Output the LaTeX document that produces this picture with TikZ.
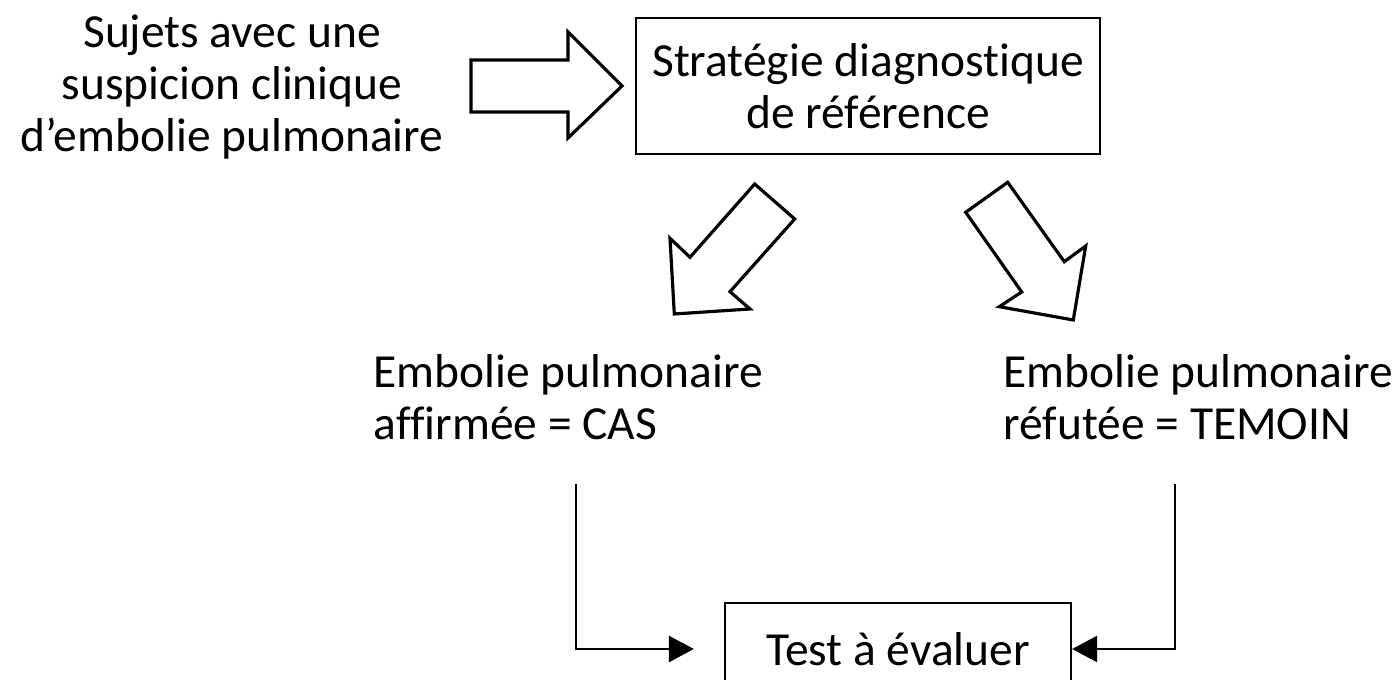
\documentclass[tikz,border=0pt]{standalone}
\usepackage{fontspec}
\setmainfont{Carlito}[Ligatures={TeX,NoCommon}]
\usetikzlibrary{arrows.meta,positioning}

\begin{document}
\begin{tikzpicture}[x=0.01cm,y=-0.01cm,
    box/.style={draw, line width=0.6pt, inner sep=0pt, align=center},
    label/.style={inner sep=0pt},
    bigarrow/.style={draw, line width=0.9pt, line join=miter, fill=white},
    link/.style={line width=0.7pt, -{Triangle[length=7.1pt,width=7.4pt]}}]
    \tikzstyle{every node}=[font=\fontsize{13.5pt}{14.8pt}\selectfont]
    \clip (0,0) rectangle (1396,680);
    \node[label, align=center] (sujets) at (232,87)
        {Sujets avec une\\suspicion clinique\\d'embolie pulmonaire};
    \node[box, minimum width=464*0.2845pt, minimum height=136*0.2845pt] (ref) at (868,86)
        {Strat\'egie diagnostique\\de r\'ef\'erence};
    \node[label, align=left, anchor=base west] (cas) at (373,440)
        {Embolie pulmonaire\\affirm\'ee = CAS};
    \node[label, align=left, anchor=base west] (temoin) at (1003,440)
        {Embolie pulmonaire\\r\'efut\'ee = TEMOIN};
    \node[box, minimum width=346*0.2845pt, minimum height=92*0.2845pt] (test) at (898,649)
        {Test \`a \'evaluer};
    % fleches
    \draw[bigarrow] (471,60) -- (568,60) -- (568,32) -- (622,86) -- (568,138) -- (568,112) -- (471,112) -- cycle;
    \draw[bigarrow] (754.7,184) -- (794.7,219) -- (730,291.7) -- (750,309) -- (674.3,314) -- (670,238.3) -- (690,257.3) -- cycle;
    \draw[bigarrow] (1007.7,182.3) -- (1064.3,261.7) -- (1085.7,246) -- (1073.3,320) -- (999.3,306.7) -- (1021.7,292) -- (965.7,212.3) -- cycle;
    \coordinate (casout) at (576,484);
    \coordinate (temoinout) at (1175,484);
    \draw[link] (casout) |- ([xshift=-30*0.2845pt]test.west);
    \draw[link] (temoinout) |- (test.east);
\end{tikzpicture}
\end{document}
